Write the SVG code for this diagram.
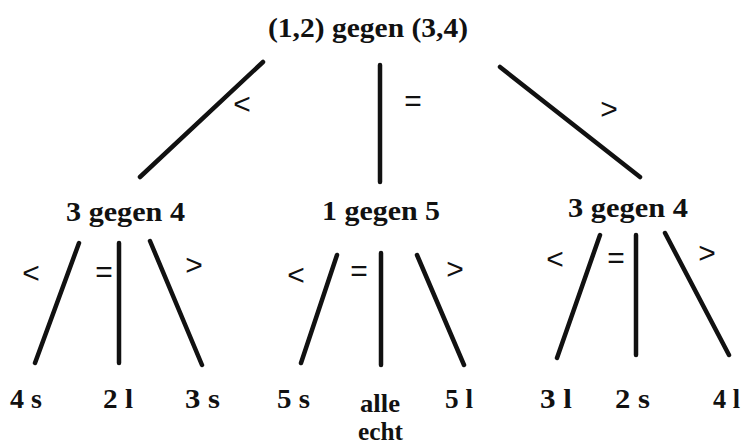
<svg xmlns="http://www.w3.org/2000/svg" width="741" height="445" viewBox="0 0 741 445">
<style>
.t{font-family:"Liberation Serif","Times New Roman",serif;font-weight:bold;fill:#111;}
.h{font-size:27px;}
.l{font-size:27px;}
.m{font-size:25px;}
.s{font-family:"Liberation Sans",Arial,sans-serif;font-size:30px;fill:#111;text-anchor:middle;}
.e{stroke:#111;stroke-width:4.5;stroke-linecap:round;fill:none;}
</style>
<rect width="741" height="445" fill="#fff"/>
<g id="connectors">
<line class="e" x1="263" y1="62" x2="140" y2="177"/>
<line class="e" x1="380" y1="65" x2="380" y2="182"/>
<line class="e" x1="500" y1="67" x2="640" y2="177"/>
<line class="e" x1="79" y1="243" x2="35" y2="363"/>
<line class="e" x1="119" y1="243" x2="119" y2="363"/>
<line class="e" x1="150" y1="241" x2="202" y2="365"/>
<line class="e" x1="337" y1="255" x2="301" y2="363"/>
<line class="e" x1="381" y1="253" x2="381" y2="365"/>
<line class="e" x1="417" y1="255" x2="464" y2="365"/>
<line class="e" x1="600" y1="235" x2="557" y2="358"/>
<line class="e" x1="636" y1="235" x2="636" y2="355"/>
<line class="e" x1="665" y1="233" x2="729" y2="355"/>
<text class="s" x="242" y="114">&lt;</text>
<text class="s" x="413" y="111">=</text>
<text class="s" x="609" y="119">&gt;</text>
<text class="s" x="31" y="283">&lt;</text>
<text class="s" x="104" y="282">=</text>
<text class="s" x="194" y="275">&gt;</text>
<text class="s" x="296" y="285">&lt;</text>
<text class="s" x="359" y="281">=</text>
<text class="s" x="455" y="279">&gt;</text>
<text class="s" x="555" y="269">&lt;</text>
<text class="s" x="616" y="268">=</text>
<text class="s" x="707" y="263">&gt;</text>
</g>
<g id="root"><text class="t h" x="268" y="37" textLength="200" lengthAdjust="spacingAndGlyphs">(1,2) gegen (3,4)</text></g>
<g id="n-left"><text class="t h" x="66" y="221" textLength="119" lengthAdjust="spacingAndGlyphs">3 gegen 4</text></g>
<g id="n-mid"><text class="t h" x="322" y="220" textLength="118" lengthAdjust="spacingAndGlyphs">1 gegen 5</text></g>
<g id="n-right"><text class="t h" x="568" y="217" textLength="120" lengthAdjust="spacingAndGlyphs">3 gegen 4</text></g>
<g id="leaf-4s"><text class="t l" x="10" y="408" textLength="32" lengthAdjust="spacingAndGlyphs">4 s</text></g>
<g id="leaf-2l"><text class="t l" x="103" y="408" textLength="30" lengthAdjust="spacingAndGlyphs">2 l</text></g>
<g id="leaf-3s"><text class="t l" x="185" y="408" textLength="35" lengthAdjust="spacingAndGlyphs">3 s</text></g>
<g id="leaf-5s"><text class="t l" x="277" y="408" textLength="33" lengthAdjust="spacingAndGlyphs">5 s</text></g>
<g id="leaf-alle"><text class="t m" x="360" y="412" textLength="40" lengthAdjust="spacingAndGlyphs">alle</text><text class="t m" x="358" y="440" textLength="45" lengthAdjust="spacingAndGlyphs">echt</text></g>
<g id="leaf-5l"><text class="t l" x="445" y="408" textLength="28" lengthAdjust="spacingAndGlyphs">5 l</text></g>
<g id="leaf-3l"><text class="t l" x="540" y="408" textLength="32" lengthAdjust="spacingAndGlyphs">3 l</text></g>
<g id="leaf-2s"><text class="t l" x="615" y="408" textLength="35" lengthAdjust="spacingAndGlyphs">2 s</text></g>
<g id="leaf-4l"><text class="t l" x="713" y="408" textLength="27" lengthAdjust="spacingAndGlyphs">4 l</text></g>
</svg>
